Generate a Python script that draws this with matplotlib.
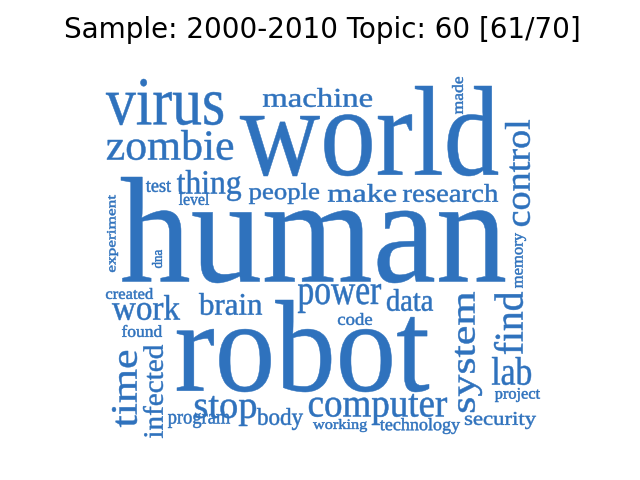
import matplotlib
matplotlib.use("Agg")
import matplotlib.pyplot as plt
from matplotlib.textpath import TextPath
from matplotlib.font_manager import FontProperties
from matplotlib.patches import PathPatch
from matplotlib.transforms import Affine2D

# ---- data ----
title = "Sample: 2000-2010 Topic: 60 [61/70]"
words = ["human", "robot", "world", "virus", "zombie", "computer", "system",
         "machine", "control", "thing", "make", "research", "people", "power",
         "brain", "time", "work", "stop", "find", "lab", "data", "infected",
         "security", "technology", "body", "program", "working", "project",
         "code", "found", "created", "test", "level", "experiment", "dna",
         "memory", "made"]
vertical = ["control", "system", "time", "find", "infected", "experiment",
            "dna", "memory", "made"]

# ---- layout (ink boxes in pixel space: x0, y0, x1, y1, y downwards) ----
layout = {
    "virus": (106, 79, 223, 125),
    "zombie": (107, 130, 233, 160),
    "machine": (263, 88, 372, 107),
    "world": (240, 86, 498, 176),
    "made": (452, 77, 463, 114),
    "control": (505, 120, 530, 226),
    "thing": (177, 170, 241, 201),
    "test": (146, 181, 171, 192),
    "level": (179, 193, 209, 205),
    "people": (249, 183, 319, 204),
    "make": (328, 184, 396, 202),
    "research": (403, 184, 498, 202),
    "experiment": (107, 195, 118, 272),
    "human": (121, 177, 505, 283),
    "dna": (152, 250, 162, 268),
    "memory": (515, 233, 526, 288),
    "created": (106, 288, 153, 299),
    "work": (112, 295, 180, 320),
    "found": (122, 325, 162, 337),
    "brain": (199, 293, 262, 315),
    "power": (298, 284, 381, 313),
    "data": (387, 289, 433, 311),
    "code": (338, 313, 372, 325),
    "robot": (177, 300, 429, 392),
    "system": (455, 292, 482, 412),
    "find": (494, 292, 523, 354),
    "lab": (492, 357, 531, 385),
    "project": (495, 388, 540, 402),
    "security": (465, 412, 536, 429),
    "computer": (309, 394, 447, 425),
    "working": (313, 419, 367, 432),
    "technology": (380, 418, 460, 434),
    "time": (112, 351, 137, 427),
    "infected": (143, 345, 163, 438),
    "program": (168, 413, 230, 428),
    "stop": (195, 396, 256, 426),
    "body": (257, 408, 303, 430),
}
color = "#2f72bd"

fig = plt.figure(figsize=(6.4, 4.8), dpi=100)
ax = fig.add_axes([0, 0, 1, 1])
ax.set_xlim(0, 640)
ax.set_ylim(480, 0)
ax.axis("off")

fp = FontProperties(family="Liberation Serif")
for w in words:
    x0, y0, x1, y1 = layout[w]
    p = TextPath((0, 0), w, size=100, prop=fp)
    if w in vertical:
        p = p.transformed(Affine2D().rotate_deg(90))
    ext = p.get_extents()
    sx = (x1 - x0) / ext.width
    sy = (y1 - y0) / ext.height
    tr = Affine2D().translate(-ext.x0, -ext.y0).scale(sx, -sy).translate(x0, y1)
    ax.add_patch(PathPatch(p.transformed(tr), fc=color, ec=color, lw=0.35,
                           joinstyle="round"))

ax.text(322, 38, title, ha="center", va="baseline", fontsize=20,
        family="DejaVu Sans", color="black")

fig.savefig("out.png", dpi=100)
